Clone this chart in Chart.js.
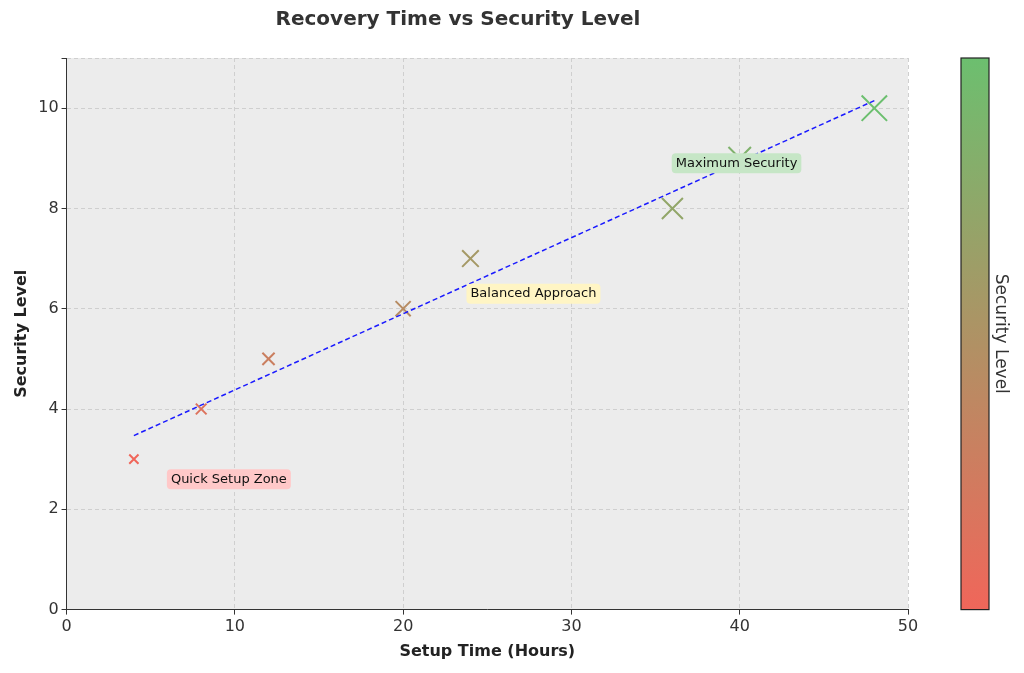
<!DOCTYPE html>
<html>
<head>
<meta charset="utf-8">
<script src="https://cdn.jsdelivr.net/npm/chart.js@4.4.0/dist/chart.umd.min.js"></script>
<style>
  body { margin: 0; background: #fff; }
  #wrap { width: 1024px; height: 673px; }
</style>
</head>
<body>
<div id="wrap"><canvas id="c"></canvas></div>
<script>
// data
const setupHours = [4, 8, 12, 20, 24, 36, 40, 48];
const securityLevel = [3, 4, 5, 6, 7, 8, 9, 10];
const trendX = [4, 48];
const trendY = [3.47, 10.15];
const notes = [
  { text: 'Quick Setup Zone', x: 6.2, y: 2.6, bg: '#ffc8c8' },
  { text: 'Balanced Approach', x: 24, y: 6.3, bg: '#fff5c4' },
  { text: 'Maximum Security', x: 36.2, y: 8.9, bg: '#c6e6c6' }
];

const red = [240, 102, 90], green = [108, 191, 111];
function mix(t) {
  const c = red.map((r, i) => Math.round(r + (green[i] - r) * t));
  return 'rgb(' + c.join(',') + ')';
}
const pointColors = securityLevel.map(v => mix((v - 3) / 7));
const pointSizes = setupHours.map(h => 5.5 + h * 0.26);

const bgPlugin = {
  id: 'bg',
  beforeDraw(chart) {
    const a = chart.chartArea, ctx = chart.ctx;
    ctx.save();
    ctx.fillStyle = '#ececec';
    ctx.fillRect(a.left, a.top, a.right - a.left, a.bottom - a.top);
    ctx.restore();
  },
  afterDraw(chart) {
    const a = chart.chartArea, ctx = chart.ctx;
    const xs = chart.scales.x, ys = chart.scales.y;
    ctx.save();
    ctx.font = '13px "DejaVu Sans"';
    ctx.textBaseline = 'middle';
    notes.forEach(n => {
      const px = xs.getPixelForValue(n.x), py = ys.getPixelForValue(n.y);
      const w = ctx.measureText(n.text).width;
      ctx.fillStyle = n.bg;
      ctx.beginPath();
      ctx.roundRect(px - 4, py - 10, w + 8, 20, 4);
      ctx.fill();
      ctx.fillStyle = '#111';
      ctx.fillText(n.text, px, py);
    });
    // colorbar
    const cx = 961, cw = 28;
    const g = ctx.createLinearGradient(0, a.bottom, 0, a.top);
    g.addColorStop(0, mix(0));
    g.addColorStop(1, mix(1));
    ctx.fillStyle = g;
    ctx.fillRect(cx, a.top, cw, a.bottom - a.top);
    ctx.strokeStyle = '#222';
    ctx.lineWidth = 1.2;
    ctx.strokeRect(cx, a.top, cw, a.bottom - a.top);
    ctx.translate(1000, (a.top + a.bottom) / 2);
    ctx.rotate(Math.PI / 2);
    ctx.fillStyle = '#333';
    ctx.font = '17px "DejaVu Sans"';
    ctx.textAlign = 'center';
    ctx.textBaseline = 'middle';
    ctx.fillText('Security Level', 0, 0);
    ctx.restore();
  }
};

new Chart(document.getElementById('c'), {
  type: 'scatter',
  data: {
    datasets: [
      {
        data: setupHours.map((h, i) => ({ x: h, y: securityLevel[i] })),
        pointStyle: 'crossRot',
        borderColor: pointColors,
        pointRadius: pointSizes,
        pointBorderWidth: 2,
        order: 2
      },
      {
        type: 'line',
        data: trendX.map((x, i) => ({ x: x, y: trendY[i] })),
        borderColor: '#1a1aff',
        borderWidth: 1.5,
        borderDash: [5, 3],
        pointRadius: 0,
        order: 1
      }
    ]
  },
  options: {
    responsive: true,
    maintainAspectRatio: false,
    animation: false,
    layout: { padding: { right: 116, left: 8, top: 0, bottom: 8 } },
    plugins: {
      legend: { display: false },
      tooltip: { enabled: false },
      title: {
        display: true, text: 'Recovery Time vs Security Level', color: '#333',
        font: { family: 'DejaVu Sans', size: 20, weight: 'bold' },
        padding: { top: 8, bottom: 26 }
      }
    },
    scales: {
      x: {
        min: 0, max: 50,
        ticks: { stepSize: 10, color: '#333', font: { family: 'DejaVu Sans', size: 16 } },
        grid: { color: '#cfcfcf', tickColor: '#333', tickLength: 5 },
        border: { color: '#333', dash: [4, 3] },
        title: { display: true, text: 'Setup Time (Hours)', color: '#222', font: { family: 'DejaVu Sans', size: 16, weight: 'bold' }, padding: { top: 2 } }
      },
      y: {
        min: 0, max: 11,
        ticks: { stepSize: 2, color: '#333', font: { family: 'DejaVu Sans', size: 16 }, callback: v => v <= 10 ? v : '' },
        grid: { color: '#cfcfcf', tickColor: '#333', tickLength: 5 },
        border: { color: '#333', dash: [4, 3] },
        title: { display: true, text: 'Security Level', color: '#222', font: { family: 'DejaVu Sans', size: 16, weight: 'bold' } }
      }
    }
  },
  plugins: [bgPlugin]
});
</script>
</body>
</html>
